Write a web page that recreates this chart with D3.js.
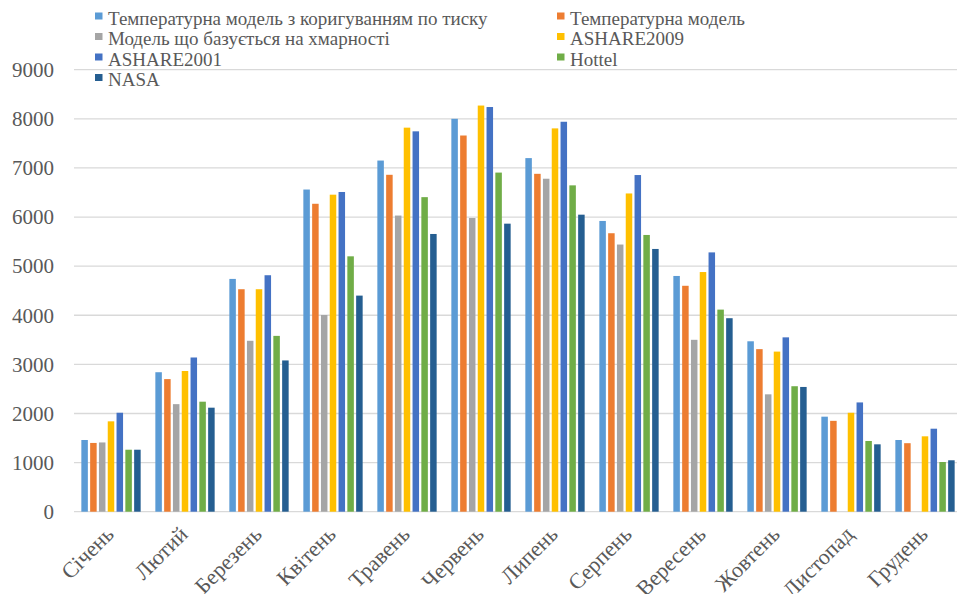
<!DOCTYPE html>
<html>
<head>
<meta charset="utf-8">
<script src="https://cdn.jsdelivr.net/npm/d3@7"></script>
<style>
  html, body { margin: 0; padding: 0; background: #fff; }
  svg { display: block; }
</style>
</head>
<body>
<svg id="chart" width="957" height="594"></svg>
<script>
// Monthly values for each model
const months = ["Січень", "Лютий", "Березень", "Квітень", "Травень", "Червень",
                "Липень", "Серпень", "Вересень", "Жовтень", "Листопад", "Грудень"];

const seriesNames = [
  "Температурна модель з коригуванням по тиску",
  "Температурна модель",
  "Модель що базується на хмарності",
  "ASHARE2009",
  "ASHARE2001",
  "Hottel",
  "NASA"
];

const seriesColors = ["#5B9BD5", "#ED7D31", "#A5A5A5", "#FFC000", "#4472C4", "#70AD47", "#255E91"];

const tempPressure = [1460, 2840, 4740, 6560, 7150, 8000, 7200, 5920, 4800, 3470, 1935, 1460];
const tempModel    = [1400, 2700, 4530, 6270, 6860, 7660, 6880, 5670, 4600, 3310, 1850, 1395];
const cloudModel   = [1410, 2190, 3480, 4005, 6030, 5980, 6780, 5440, 3500, 2390, null, null];
const ashrae2009   = [1840, 2865, 4530, 6455, 7820, 8270, 7805, 6480, 4880, 3260, 2015, 1535];
const ashrae2001   = [2015, 3140, 4815, 6510, 7745, 8240, 7940, 6855, 5280, 3550, 2225, 1690];
const hottel       = [1262, 2240, 3580, 5200, 6405, 6905, 6645, 5635, 4115, 2555, 1440, 1012];
const nasa         = [1262, 2118, 3080, 4400, 5655, 5865, 6048, 5350, 3940, 2540, 1372, 1047];

const yTicks = [0, 1000, 2000, 3000, 4000, 5000, 6000, 7000, 8000, 9000];

const seriesValues = [tempPressure, tempModel, cloudModel, ashrae2009, ashrae2001, hottel, nasa];

const FONT = "'Liberation Serif', serif";
const TEXT_COLOR = "#595959";

const svg = d3.select("#chart");
const plotLeft = 74, plotRight = 962, plotTop = 69.7, plotBottom = 511.7;

const x0 = d3.scaleBand().domain(months).range([plotLeft, plotRight])
  .paddingInner(0.1676).paddingOuter(0.0838);
const x1 = d3.scaleBand().domain(d3.range(seriesNames.length)).range([0, x0.bandwidth()])
  .paddingInner(0.26).paddingOuter(0.13);
const y = d3.scaleLinear().domain([0, 9000]).range([plotBottom, plotTop]);

// gridlines
svg.append("g").selectAll("line").data(yTicks).join("line")
  .attr("x1", plotLeft).attr("x2", plotRight)
  .attr("y1", d => y(d)).attr("y2", d => y(d))
  .attr("stroke", "#D9D9D9").attr("stroke-width", 1.3);

// y-axis labels
svg.append("g").selectAll("text").data(yTicks).join("text")
  .attr("x", 54).attr("y", d => y(d)).attr("dy", "0.35em")
  .attr("text-anchor", "end")
  .attr("font-family", FONT).attr("font-size", 21).attr("fill", TEXT_COLOR)
  .text(d => d);

// bars
const groups = svg.append("g").selectAll("g").data(months).join("g")
  .attr("transform", d => `translate(${x0(d)},0)`);

groups.selectAll("rect")
  .data((m, mi) => seriesValues.map((vals, si) => ({ si, v: vals[mi] })).filter(d => d.v != null))
  .join("rect")
  .attr("x", d => x1(d.si))
  .attr("width", x1.bandwidth())
  .attr("y", d => y(d.v))
  .attr("height", d => y(0) - y(d.v))
  .attr("fill", d => seriesColors[d.si]);

// month labels, rotated
svg.append("g").selectAll("text").data(months).join("text")
  .attr("transform", d => `translate(${x0(d) + x0.bandwidth() / 2 + 4},${plotBottom + 24}) rotate(-45)`)
  .attr("text-anchor", "end")
  .attr("font-family", FONT).attr("font-size", 22).attr("fill", TEXT_COLOR)
  .text(d => d);

// legend
const legendCols = [95, 557];
const legend = svg.append("g").selectAll("g").data(seriesNames).join("g")
  .attr("transform", (d, i) => `translate(${legendCols[i % 2]},${24.5 + Math.floor(i / 2) * 20.5})`);
legend.append("rect")
  .attr("x", 0).attr("y", -12).attr("width", 7.5).attr("height", 7)
  .attr("fill", (d, i) => seriesColors[i]);
legend.append("text")
  .attr("x", 13).attr("y", 0)
  .attr("font-family", FONT).attr("font-size", 19).attr("fill", TEXT_COLOR)
  .text(d => d);
</script>
</body>
</html>
